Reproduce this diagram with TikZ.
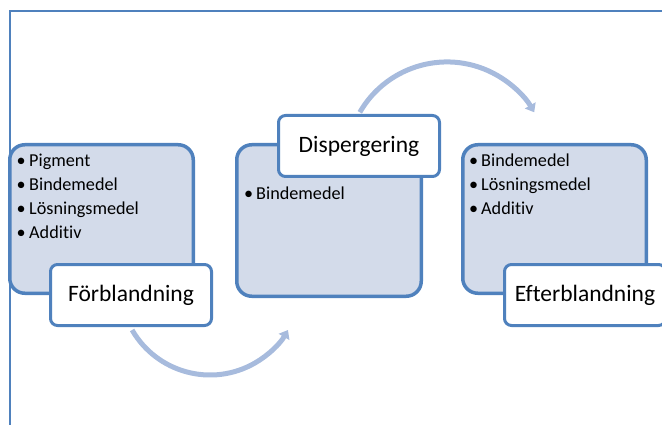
\documentclass[tikz,border=0pt]{standalone}
\usepackage{fontspec}
\setmainfont{Carlito}[Ligatures=NoCommon]
\usepackage{tikz}
\usetikzlibrary{arrows.meta}
\usepackage{xcolor}
\definecolor{frameblue}{RGB}{79,129,189}
\definecolor{boxfill}{RGB}{211,219,234}
\definecolor{arrowblue}{RGB}{167,187,221}

\begin{document}
\begin{tikzpicture}[x=1pt, y=-1pt,
    listbox/.style={draw=frameblue, line width=3.5pt, fill=boxfill, rounded corners=15pt, inner sep=0pt},
    labelbox/.style={draw=frameblue, line width=3pt, fill=white, rounded corners=7pt, minimum width=161pt, minimum height=61pt, font=\fontsize{23.5}{28}\selectfont},
    listtext/.style={anchor=base west, inner sep=0pt, font=\fontsize{18.2}{22}\selectfont},
    flowarrow/.style={draw=arrowblue, line width=5pt, -{Triangle[width=12pt, length=8pt]}}]
    \useasboundingbox (0,0) rectangle (662,425);
    \clip (0,0) rectangle (662,425);
    \draw[frameblue, line width=2pt] (10,440) -- (10,11) -- (680,11);

    \coordinate (arcA) at (132.1,330);
    \coordinate (arcB) at (359.8,112.3);
    \draw[flowarrow] (arcA) arc[start angle=150, end angle=30, radius=90];
    \draw[flowarrow] (arcB) arc[start angle=210, end angle=330, radius=100.7];

    \node[listbox, minimum width=183.5pt, minimum height=148.5pt] (forbox) at (101.5,219) {};
    \node[listbox, minimum width=184.5pt, minimum height=151.5pt] (disbox) at (329,220.5) {};
    \node[listbox, minimum width=183.5pt, minimum height=148.5pt] (eftbox) at (554.5,219) {};

    \node[listtext] (for1) at (16.5,166.7) {\makebox[12.5pt][l]{•}Pigment};
    \node[listtext] (for2) at (16.5,190.6) {\makebox[12.5pt][l]{•}Bindemedel};
    \node[listtext] (for3) at (16.5,214.4) {\makebox[12.5pt][l]{•}Lösningsmedel};
    \node[listtext] (for4) at (16.5,238.2) {\makebox[12.5pt][l]{•}Additiv};
    \node[listtext] (dis1) at (244,200) {\makebox[12pt][l]{•}Bindemedel};
    \node[listtext] (eft1) at (469,167) {\makebox[12pt][l]{•}Bindemedel};
    \node[listtext] (eft2) at (469,190.8) {\makebox[12pt][l]{•}Lösningsmedel};
    \node[listtext] (eft3) at (469,214.6) {\makebox[12pt][l]{•}Additiv};

    \node[labelbox] (forlabel) at (131,295) {Förblandning};
    \node[labelbox] (dislabel) at (359,146) {Dispergering};
    \node[labelbox] (eftlabel) at (585,295) {Efterblandning};
\end{tikzpicture}
\end{document}
